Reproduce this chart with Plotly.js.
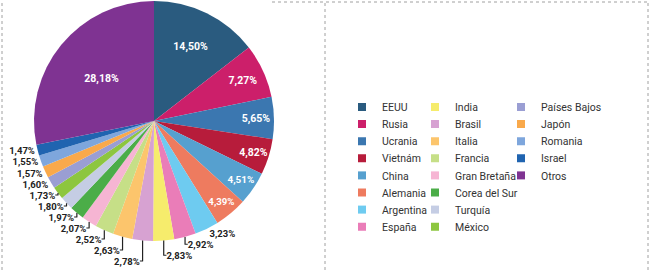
<!DOCTYPE html>
<html>
<head>
<meta charset="utf-8">
<script src="https://cdn.plot.ly/plotly-3.0.1.min.js"></script>
<style>html,body{margin:0;padding:0;background:#fff;}#chart{width:651px;height:270px;}</style>
</head>
<body>
<div id="chart"></div>
<script>
var categories = ["EEUU","Rusia","Ucrania","Vietnám","China","Alemania","Argentina","España","India","Brasil","Italia","Francia","Gran Bretaña","Corea del Sur","Turquía","México","Países Bajos","Japón","Romania","Israel","Otros"];
var shares = [14.50,7.27,5.65,4.82,4.51,4.39,3.23,2.92,2.83,2.78,2.63,2.52,2.07,1.97,1.80,1.73,1.60,1.57,1.55,1.47,28.18];
var colors = ["#2a5b7f","#cc1f6a","#3b77b0","#b71c3b","#56a0cf","#ee7b5f","#6ecbf0","#ea7db8","#f6ec6c","#d7a2d2","#fcc56c","#c6df87","#f6b5d3","#4bad48","#c5cde4","#8dc63f","#9a9ed3","#f9a94b","#7ea6dc","#2064b0","#7f3392"];
var labelPlacement = ["inside","inside","inside","inside","inside","inside","outside","outside","outside","outside","outside","outside","outside","outside","outside","outside","outside","outside","outside","outside","inside"];

var W = 651, H = 270;
var FONT = "Roboto, 'Liberation Sans', sans-serif";

var traces = [{
  type: "pie",
  labels: categories,
  values: shares,
  sort: false,
  direction: "clockwise",
  rotation: 0,
  marker: {colors: colors, line: {width: 0}},
  textposition: labelPlacement,
  insidetextorientation: "horizontal",
  texttemplate: "<b>%{value:.2f}%</b>",
  hoverinfo: "label+value",
  insidetextfont: {family: FONT, size: 10.5, color: "#ffffff"},
  outsidetextfont: {family: FONT, size: 9.5, color: "#222222"},
  showlegend: false,
  domain: {x: [34/W, 274/W], y: [(H-242)/H, 1]}
}];

var layout = {
  width: W, height: H,
  margin: {l: 0, r: 0, t: 0, b: 0},
  paper_bgcolor: "#ffffff",
  plot_bgcolor: "rgba(0,0,0,0)",
  separators: ",.",
  font: {family: FONT, color: "#333333"},
  xaxis: {visible: false, range: [0, 1]},
  yaxis: {visible: false, range: [0, 1]},
  shapes: [
    {type: "line", xref: "paper", yref: "paper", x0: 2/W, x1: 2/W, y0: 0, y1: 1, line: {color: "#a0a0a0", width: 1, dash: "dot"}, layer: "below"},
    {type: "line", xref: "paper", yref: "paper", x0: 325/W, x1: 325/W, y0: 0, y1: 1 - 2/H, line: {color: "#a0a0a0", width: 1, dash: "dot"}, layer: "below"},
    {type: "line", xref: "paper", yref: "paper", x0: 648/W, x1: 648/W, y0: 0, y1: 1 - 2/H, line: {color: "#a0a0a0", width: 1, dash: "dot"}, layer: "below"},
    {type: "line", xref: "paper", yref: "paper", x0: 272/W, x1: 648/W, y0: 1 - 2/H, y1: 1 - 2/H, line: {color: "#a0a0a0", width: 1, dash: "dot"}, layer: "below"}
  ]
};

var colSwatchX = [365, 438, 524];
var rowY0 = 107, rowStep = 17.1;
for (var i = 0; i < categories.length; i++) {
  var col = Math.floor(i / 8), row = i % 8;
  var lname = i === 0 ? "legend" : "legend" + (i + 1);
  traces.push({
    type: "scatter", mode: "markers",
    x: [null], y: [null],
    name: categories[i],
    legend: lname,
    showlegend: true,
    hoverinfo: "skip",
    marker: {symbol: "square", size: 8, color: colors[i]}
  });
  layout[lname] = {
    xref: "paper", yref: "paper",
    x: (colSwatchX[col] - 23) / W, xanchor: "left",
    y: 1 - (rowY0 + row * rowStep) / H, yanchor: "middle",
    bgcolor: "rgba(0,0,0,0)", borderwidth: 0,
    font: {family: FONT, size: 10.5, color: "#333333"},
    itemclick: false, itemdoubleclick: false
  };
}

Plotly.newPlot("chart", traces, layout, {displayModeBar: false, staticPlot: true});
</script>
</body>
</html>
